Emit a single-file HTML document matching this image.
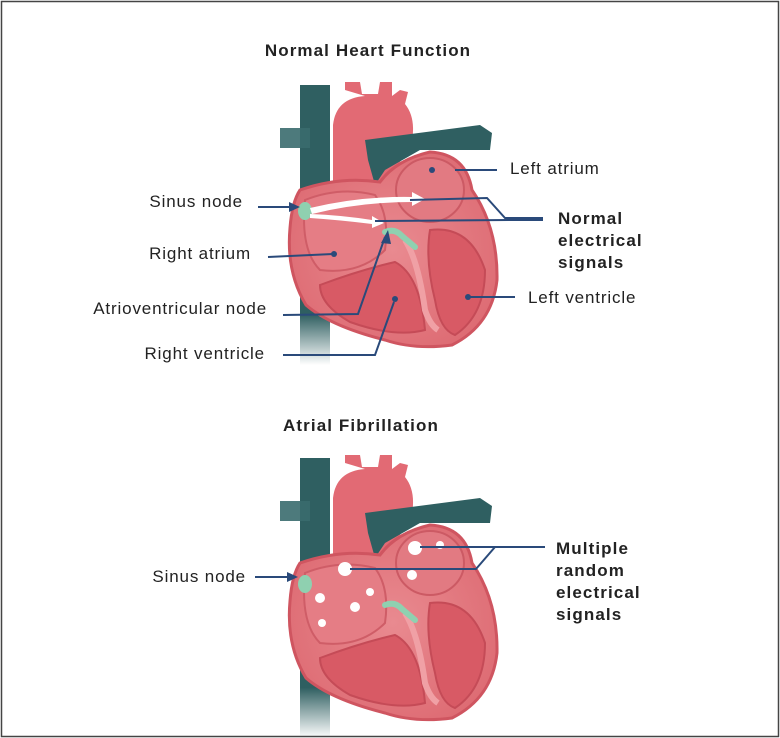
<!DOCTYPE html>
<html><head><meta charset="utf-8"><style>
html,body{margin:0;padding:0;background:#fff}
svg{display:block}
text{font-family:"Liberation Sans",sans-serif;fill:#222;font-size:17px;letter-spacing:0.85px}
text.b{font-weight:bold;letter-spacing:1.1px}
</style></head><body>
<svg width="780" height="738" viewBox="0 0 780 738" xmlns="http://www.w3.org/2000/svg">
<defs>
<linearGradient id="tealend" x1="0" y1="0" x2="0" y2="1"><stop offset="0.82" stop-color="#2f5f61"/><stop offset="1" stop-color="#2f5f61" stop-opacity="0"/></linearGradient>
<radialGradient id="heartg" cx="0.5" cy="0.5" r="0.6"><stop offset="0" stop-color="#e98a90"/><stop offset="1" stop-color="#dd6a72"/></radialGradient>
<g id="heart">
  <rect x="300" y="85" width="30" height="280" fill="url(#tealend)"/>
  <rect x="280" y="128" width="30" height="20" fill="#3a6c6e" opacity="0.9"/>
  <path d="M333,205 L333,125 Q336,98 365,96 L345,90 L345,82 L360,82 L362,94 L378,94 L380,82 L392,82 L392,96 L400,90 L408,92 L405,104 Q418,120 410,150 L385,180 Z" fill="#e26a74"/>
  <path d="M365,140 L480,125 L492,133 L490,150 L420,150 L385,170 L375,185 L368,160 Z" fill="#2f5f61"/>
  <path d="M300,190 Q340,176 380,182 Q396,160 430,152 Q466,154 472,190 Q498,228 497,280 Q492,325 452,345 Q415,350 385,340 Q330,326 306,305 Q286,272 290,228 Q292,202 300,190 Z" fill="url(#heartg)" stroke="#cf5560" stroke-width="3"/>
  <ellipse cx="430" cy="190" rx="34" ry="32" fill="#e27a82" stroke="#cc5a64" stroke-width="2"/>
  <path d="M305,200 Q340,186 375,195 Q390,215 385,250 Q360,275 320,270 Q300,250 305,200 Z" fill="#e57d85" stroke="#cf5d67" stroke-width="2"/>
  <path d="M320,285 Q360,270 395,262 Q420,275 425,330 Q395,338 350,322 Q320,305 320,285 Z" fill="#d85a65" stroke="#c54b57" stroke-width="2"/>
  <path d="M430,230 Q470,225 485,270 Q485,315 455,335 Q440,330 435,300 Q425,260 430,230 Z" fill="#d85a65" stroke="#c54b57" stroke-width="2"/>
  <path d="M405,240 Q418,260 425,310 Q430,325 438,330" fill="none" stroke="#f0a0a5" stroke-width="6"/>
  <ellipse cx="305" cy="211" rx="7" ry="9" fill="#8fd0b0"/>
  <path d="M385,232 Q395,228 402,236 L415,247" fill="none" stroke="#8fd0b0" stroke-width="6" stroke-linecap="round"/>
</g>
</defs>
<rect x="1.5" y="1.5" width="777" height="735" fill="#fff" stroke="#444" stroke-width="1.5"/>

<text class="b" x="368" y="56" text-anchor="middle">Normal Heart Function</text>
<use href="#heart"/>
<path d="M310,208 Q360,196 412,197 L412,192 L425,199 L412,206 L412,202 Q360,202 312,214 Z" fill="#fff"/>
<path d="M310,214 Q340,215 372,220 L372,216 L384,223 L372,228 L372,224 Q340,220 310,218 Z" fill="#fff"/>
<g stroke="#2a4a7a" stroke-width="2" fill="none">
  <path d="M410,200 L487,198 L505,218 L543,218"/>
  <path d="M375,221 L510,220 L543,220"/>
  <line x1="455" y1="170" x2="497" y2="170"/>
  <path d="M258,207 L293,207"/>
  <path d="M268,257 L333,254"/>
  <path d="M283,315 L358,314 L385,237"/>
  <path d="M283,355 L375,355 L394,302"/>
  <line x1="466" y1="297" x2="515" y2="297"/>
</g>
<g fill="#2a4a7a">
  <polygon points="300,207 289,202 289,212"/>
  <polygon points="388,230 381,243 391,244"/>
  <circle cx="432" cy="170" r="3"/><circle cx="334" cy="254" r="3"/><circle cx="395" cy="299" r="3"/><circle cx="468" cy="297" r="3"/>
</g>
<text x="510" y="174">Left atrium</text>
<text x="243" y="207" text-anchor="end">Sinus node</text>
<text x="251" y="259" text-anchor="end">Right atrium</text>
<text x="267" y="314" text-anchor="end">Atrioventricular node</text>
<text x="265" y="359" text-anchor="end">Right ventricle</text>
<text x="528" y="303">Left ventricle</text>
<text class="b" x="558" y="224">Normal</text><text class="b" x="558" y="246">electrical</text><text class="b" x="558" y="268">signals</text>

<text class="b" x="361" y="431" text-anchor="middle">Atrial Fibrillation</text>
<use href="#heart" transform="translate(0,373)"/>
<g fill="#fff">
  <circle cx="345" cy="569" r="7"/><circle cx="415" cy="548" r="7"/><circle cx="440" cy="545" r="4"/><circle cx="412" cy="575" r="5"/>
  <circle cx="320" cy="598" r="5"/><circle cx="370" cy="592" r="4"/><circle cx="355" cy="607" r="5"/><circle cx="322" cy="623" r="4"/>
</g>
<g stroke="#2a4a7a" stroke-width="2" fill="none">
  <path d="M420,547 L495,547 L545,547"/>
  <path d="M350,569 L476,569 L495,547"/>
  <path d="M255,577 L288,577"/>
</g>
<polygon points="298,577 287,572 287,582" fill="#2a4a7a"/>
<text x="246" y="582" text-anchor="end">Sinus node</text>
<text class="b" x="556" y="554">Multiple</text><text class="b" x="556" y="576">random</text><text class="b" x="556" y="598">electrical</text><text class="b" x="556" y="620">signals</text>
</svg>
</body></html>
